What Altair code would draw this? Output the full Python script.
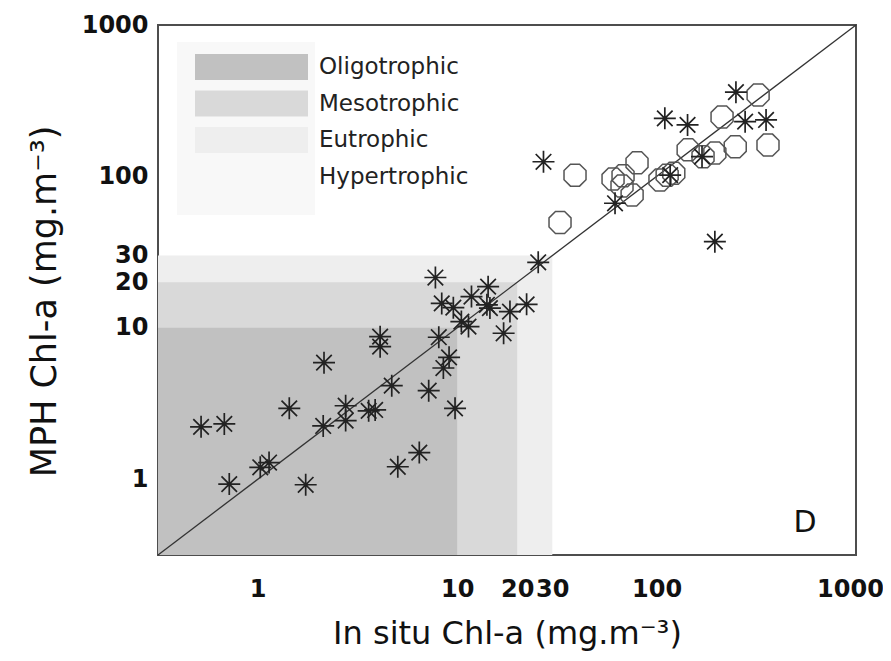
import altair as alt
import pandas as pd

# ---------------- data ----------------
LO = 10 ** -0.5
HI = 1000

trophic_classes = ["Oligotrophic", "Mesotrophic", "Eutrophic", "Hypertrophic"]
trophic_colors = ["#c1c1c1", "#d9d9d9", "#eeeeee", "#f8f8f8"]
# upper limits (mg.m-3) of the shaded classes, drawn largest first
shade_classes = ["Eutrophic", "Mesotrophic", "Oligotrophic"]
shade_upper = [30, 20, 10]

axis_ticks = [1, 10, 20, 30, 100, 1000]

star_x = [0.52, 0.68, 0.72, 1.03, 1.14, 1.44, 1.74, 2.15, 2.13, 2.76, 2.76, 3.60,
          3.88, 4.11, 4.11, 4.70, 5.04, 6.46, 7.20, 7.78, 8.09, 8.53, 9.11, 8.37,
          9.57, 9.76, 10.5, 11.4, 11.8, 14.3, 14.1, 14.6, 18.4, 22.3, 17.1, 25.5,
          27.1, 61.9, 117, 110, 143, 169, 278, 354, 250, 196]
star_y = [2.22, 2.32, 0.93, 1.20, 1.29, 2.94, 0.92, 5.89, 2.25, 3.06, 2.44, 2.83,
          2.87, 8.75, 7.51, 4.15, 1.21, 1.50, 3.85, 21.5, 8.67, 5.43, 6.39, 14.5,
          13.6, 2.94, 11.0, 10.2, 16.1, 18.7, 14.2, 13.5, 12.8, 14.3, 9.21, 27.1,
          125, 66.5, 102, 242, 219, 135, 230, 236, 360, 37.1]

circle_x = [32.8, 39.0, 60.5, 67.9, 79.8, 75.4, 67.1, 104, 113, 122, 144, 171,
            196, 248, 362, 213, 323]
circle_y = [49.7, 102, 96.2, 101, 123, 75.5, 86.5, 94.8, 102, 105, 150, 135,
            143, 157, 161, 247, 345]

# ---------------- tables ----------------
df_shade = pd.DataFrame({
    "cls": shade_classes,
    "x0": [LO] * len(shade_upper),
    "x1": shade_upper,
    "y0": [LO] * len(shade_upper),
    "y1": shade_upper,
})
df_line = pd.DataFrame({"x": [LO, HI], "y": [LO, HI]})
df_star = pd.DataFrame({"x": star_x, "y": star_y})
df_circle = pd.DataFrame({"x": circle_x, "y": circle_y})
df_legend = pd.DataFrame({"cls": trophic_classes, "row": list(range(len(trophic_classes)))})

FONT = "DejaVu Sans"

xscale = alt.Scale(type="log", domain=[LO, HI], nice=False)
yscale = alt.Scale(type="log", domain=[LO, HI], nice=False)
cscale = alt.Scale(domain=trophic_classes, range=trophic_colors)

xaxis = alt.Axis(
    values=axis_ticks, format="d", grid=False, ticks=False, domain=False,
    labelOverlap=False, labelFlush=False, labelPadding=22,
    labelOffset={"condition": {"test": "datum.value >= 1000", "value": -6}, "value": 0},
    title="In situ Chl-a (mg.m⁻³)", titlePadding=17, titleFontSize=32,
)
yaxis = alt.Axis(
    values=axis_ticks, format="d", grid=False, ticks=False, domain=False,
    labelOverlap=False, labelFlush=False, labelPadding=10,
    title="MPH Chl-a (mg.m⁻³)", titlePadding=19, titleFontSize=35, titleY=276,
)

star_path = ("M-1,0L1,0M0,-1L0,1M-0.707,-0.707L0.707,0.707"
             "M-0.707,0.707L0.707,-0.707")
oct_path = ("M-0.414,-1L0.414,-1L1,-0.414L1,0.414L0.414,1L-0.414,1"
            "L-1,0.414L-1,-0.414Z")

shade = alt.Chart(df_shade).mark_rect(strokeWidth=0).encode(
    x=alt.X("x0:Q", scale=xscale, axis=xaxis),
    x2="x1:Q",
    y=alt.Y("y0:Q", scale=yscale, axis=yaxis),
    y2="y1:Q",
    color=alt.Color("cls:N", scale=cscale, legend=None),
)

line = alt.Chart(df_line).mark_line(color="#333333", strokeWidth=1.3).encode(
    x=alt.X("x:Q", scale=xscale, axis=xaxis),
    y=alt.Y("y:Q", scale=yscale, axis=yaxis),
)

circles = alt.Chart(df_circle).mark_point(
    shape=oct_path, filled=False, size=484, stroke="#555555", strokeWidth=1.5,
    opacity=1,
).encode(
    x=alt.X("x:Q", scale=xscale, axis=xaxis),
    y=alt.Y("y:Q", scale=yscale, axis=yaxis),
)

stars = alt.Chart(df_star).mark_point(
    shape=star_path, filled=False, size=484, stroke="#222222", strokeWidth=1.7,
    opacity=1,
).encode(
    x=alt.X("x:Q", scale=xscale, axis=xaxis),
    y=alt.Y("y:Q", scale=yscale, axis=yaxis),
)

# ---- manual legend (wide swatches on a light panel) ----
legend_box = alt.Chart(pd.DataFrame({"k": [0]})).mark_rect(
    color="#f8f8f8"
).encode(
    x=alt.value(19), x2=alt.value(157), y=alt.value(17), y2=alt.value(190)
)

legend_base = alt.Chart(df_legend).transform_calculate(
    py0="29 + datum.row * 36.5",
    py1="29 + datum.row * 36.5 + 26",
    pyc="29 + datum.row * 36.5 + 13",
)
legend_swatch = legend_base.mark_rect(strokeWidth=0).encode(
    x=alt.value(37), x2=alt.value(150),
    y=alt.Y("py0:Q", scale=None, axis=None),
    y2="py1:Q",
    color=alt.Color("cls:N", scale=cscale, legend=None),
)
legend_text = legend_base.mark_text(
    font=FONT, fontSize=23, color="#222222", align="left", baseline="middle"
).encode(
    x=alt.value(161),
    y=alt.Y("pyc:Q", scale=None, axis=None),
    text="cls:N",
)

label_d = alt.Chart(pd.DataFrame({"k": [0]})).mark_text(
    font=FONT, fontSize=30, color="#111111", align="center", baseline="middle"
).encode(x=alt.value(647), y=alt.value(498), text=alt.value("D"))

chart = alt.layer(
    shade, legend_box, legend_swatch, legend_text, line, circles, stars, label_d
).properties(
    width=698, height=530,
    autosize=alt.AutoSizeParams(type="none"),
    padding={"left": 150, "top": 17, "right": 27, "bottom": 98},
).configure_view(
    stroke="#4d4d4d", strokeWidth=2
).configure_axis(
    labelFont=FONT, labelFontSize=24, labelFontWeight="bold", labelColor="#111111",
    titleFont=FONT, titleFontWeight="normal", titleColor="#111111",
)

chart.save("out.html", embed_options={"renderer": "svg", "actions": False})
